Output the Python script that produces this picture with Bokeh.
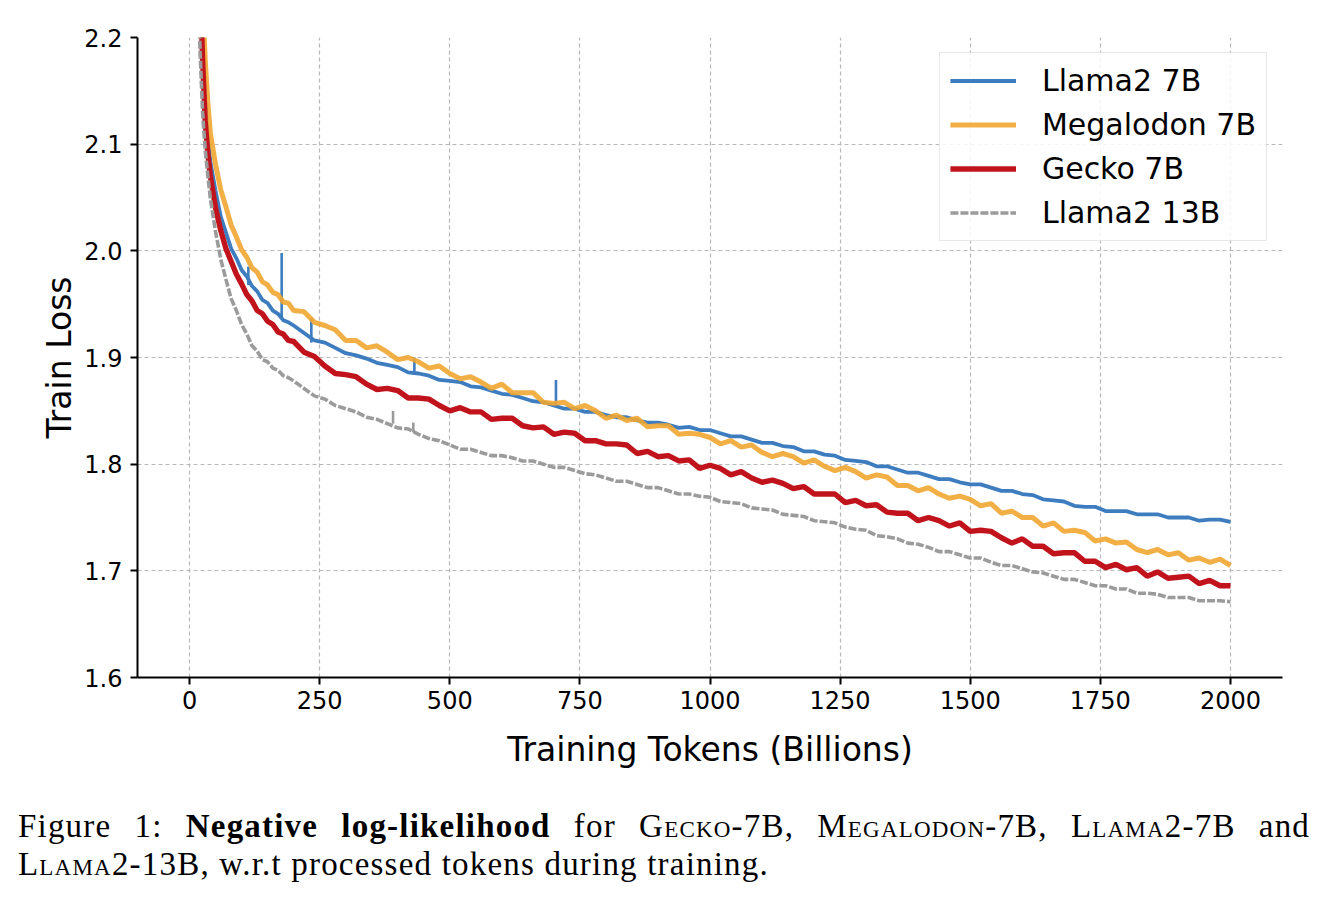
from bokeh.plotting import figure
from bokeh.models import Range1d, FixedTicker, NumeralTickFormatter, Legend, LegendItem, Div
from bokeh.layouts import column
from bokeh.embed import file_html
from bokeh.resources import INLINE

# ---------------- data ----------------
early_tokens = [10, 15, 20, 25, 30, 35, 40, 50, 60, 70, 80, 90, 100, 110, 120, 130, 140, 150, 160, 170, 180, 190]
tokens = early_tokens + list(range(200, 2001, 20))

llama2_7b = [
    2.50, 2.36, 2.25, 2.19, 2.14, 2.106, 2.084, 2.056, 2.032, 2.017, 2.002, 1.993, 1.982, 1.976, 1.967, 1.962, 1.954, 1.951, 1.944, 1.941, 1.935, 1.933,
    1.930, 1.923, 1.916, 1.914, 1.909, 1.904, 1.902, 1.899, 1.895, 1.893,
    1.891, 1.886, 1.885, 1.883, 1.879, 1.878, 1.877, 1.873, 1.872, 1.869,
    1.866, 1.865, 1.862, 1.859, 1.858, 1.855, 1.852, 1.852, 1.849, 1.849,
    1.846, 1.844, 1.844, 1.841, 1.839, 1.839, 1.837, 1.834, 1.835, 1.832,
    1.832, 1.829, 1.826, 1.826, 1.823, 1.820, 1.820, 1.817, 1.816, 1.812,
    1.812, 1.809, 1.808, 1.804, 1.803, 1.802, 1.798, 1.798, 1.795, 1.792,
    1.792, 1.789, 1.786, 1.786, 1.783, 1.781, 1.781, 1.778, 1.775, 1.775,
    1.772, 1.771, 1.767, 1.766, 1.765, 1.761, 1.760, 1.760, 1.756, 1.756,
    1.756, 1.753, 1.753, 1.753, 1.750, 1.750, 1.750, 1.747, 1.748, 1.748,
    1.746,
]

megalodon_7b = [
    2.60, 2.45, 2.32, 2.24, 2.18, 2.140, 2.110, 2.081, 2.057, 2.041, 2.024, 2.013, 2.001, 1.994, 1.984, 1.980, 1.971, 1.968, 1.961, 1.959, 1.952, 1.951,
    1.944, 1.943, 1.933, 1.930, 1.926, 1.916, 1.916, 1.909, 1.911, 1.905,
    1.898, 1.900, 1.896, 1.890, 1.892, 1.885, 1.880, 1.882, 1.877, 1.871,
    1.875, 1.867, 1.867, 1.867, 1.858, 1.857, 1.858, 1.852, 1.855, 1.850,
    1.843, 1.846, 1.841, 1.843, 1.835, 1.836, 1.836, 1.828, 1.829, 1.828,
    1.825, 1.819, 1.822, 1.816, 1.818, 1.811, 1.807, 1.810, 1.807, 1.801,
    1.804, 1.798, 1.794, 1.797, 1.793, 1.787, 1.790, 1.788, 1.780, 1.780,
    1.775, 1.778, 1.772, 1.768, 1.770, 1.767, 1.761, 1.763, 1.754, 1.756,
    1.750, 1.750, 1.742, 1.745, 1.737, 1.738, 1.736, 1.728, 1.730, 1.726,
    1.727, 1.720, 1.717, 1.720, 1.715, 1.717, 1.710, 1.712, 1.708, 1.711,
    1.705,
]

gecko_7b = [
    2.55, 2.40, 2.26, 2.18, 2.122, 2.092, 2.070, 2.040, 2.019, 2.002, 1.990, 1.978, 1.969, 1.959, 1.953, 1.944, 1.941, 1.934, 1.931, 1.924, 1.922, 1.916,
    1.915, 1.905, 1.901, 1.892, 1.885, 1.884, 1.882, 1.875, 1.870, 1.871,
    1.869, 1.862, 1.862, 1.861, 1.855, 1.850, 1.853, 1.849, 1.849, 1.842,
    1.843, 1.843, 1.836, 1.834, 1.835, 1.828, 1.830, 1.829, 1.822, 1.822,
    1.819, 1.819, 1.818, 1.810, 1.812, 1.807, 1.808, 1.803, 1.804, 1.796,
    1.799, 1.796, 1.790, 1.793, 1.787, 1.783, 1.785, 1.782, 1.777, 1.779,
    1.772, 1.772, 1.772, 1.764, 1.766, 1.761, 1.762, 1.755, 1.754, 1.754,
    1.747, 1.750, 1.747, 1.742, 1.745, 1.737, 1.738, 1.737, 1.731, 1.726,
    1.730, 1.723, 1.723, 1.716, 1.717, 1.717, 1.709, 1.709, 1.703, 1.706,
    1.701, 1.703, 1.695, 1.699, 1.693, 1.694, 1.695, 1.688, 1.691, 1.686,
    1.686,
]

llama2_13b = [
    2.45, 2.30, 2.19, 2.13, 2.095, 2.071, 2.049, 2.018, 1.992, 1.973, 1.955, 1.944, 1.931, 1.922, 1.911, 1.906, 1.898, 1.896, 1.890, 1.888, 1.883, 1.881,
    1.878, 1.871, 1.864, 1.861, 1.855, 1.852, 1.849, 1.844, 1.842, 1.838,
    1.834, 1.833, 1.828, 1.824, 1.822, 1.818, 1.814, 1.814, 1.811, 1.808,
    1.808, 1.806, 1.803, 1.803, 1.800, 1.797, 1.797, 1.794, 1.791, 1.790,
    1.787, 1.784, 1.784, 1.781, 1.778, 1.778, 1.775, 1.772, 1.772, 1.770,
    1.769, 1.765, 1.764, 1.763, 1.759, 1.758, 1.757, 1.753, 1.752, 1.751,
    1.747, 1.746, 1.745, 1.741, 1.739, 1.738, 1.733, 1.732, 1.730, 1.726,
    1.725, 1.722, 1.718, 1.718, 1.715, 1.712, 1.712, 1.708, 1.705, 1.705,
    1.702, 1.699, 1.698, 1.695, 1.692, 1.692, 1.689, 1.686, 1.686, 1.683,
    1.683, 1.679, 1.679, 1.678, 1.675, 1.675, 1.675, 1.672, 1.672, 1.672,
    1.671,
]

# loss spikes (token position, base value, peak value)
llama2_7b_spike_x = [113, 177, 234, 432, 704]
llama2_7b_spike_base = [1.968, 1.937, 1.914, 1.884, 1.854]
llama2_7b_spike_top = [1.985, 1.998, 1.937, 1.900, 1.879]
llama2_13b_spike_x = [391, 430]
llama2_13b_spike_base = [1.838, 1.830]
llama2_13b_spike_top = [1.850, 1.839]

series_names = ["Llama2 7B", "Megalodon 7B", "Gecko 7B", "Llama2 13B"]
x_ticks = [0, 250, 500, 750, 1000, 1250, 1500, 1750, 2000]
y_ticks = [1.6, 1.7, 1.8, 1.9, 2.0, 2.1, 2.2]

# ---------------- styling ----------------
BLUE = "#3D7DBF"
ORANGE = "#F0A631"
RED = "#C1131C"
GRAY = "#9B9B9B"
FONT = "DejaVu Sans"

p = figure(width=1326, height=780, output_backend="svg", toolbar_location=None,
           x_range=Range1d(-100, 2100), y_range=Range1d(1.6, 2.2),
           min_border_left=137, min_border_right=44, min_border_top=37, min_border_bottom=103)
p.outline_line_color = None
p.background_fill_color = "white"

for ax in (p.xaxis[0], p.yaxis[0]):
    ax.axis_line_width = 2
    ax.axis_line_color = "black"
    ax.major_tick_line_width = 2
    ax.major_tick_line_color = "black"
    ax.major_tick_out = 7
    ax.major_tick_in = 0
    ax.minor_tick_out = 0
    ax.minor_tick_in = 0
    ax.major_label_text_font = FONT
    ax.major_label_text_font_size = "24px"
    ax.major_label_text_color = "black"
    ax.axis_label_text_font = FONT
    ax.axis_label_text_font_style = "normal"
    ax.axis_label_text_font_size = "33px"
    ax.axis_label_text_color = "black"

p.xaxis.ticker = FixedTicker(ticks=x_ticks)
p.yaxis.ticker = FixedTicker(ticks=y_ticks)
p.yaxis.formatter = NumeralTickFormatter(format="0.0")
p.xaxis.axis_label = "Training Tokens (Billions)"
p.yaxis.axis_label = "Train Loss"
p.xaxis.major_label_standoff = 6
p.yaxis.major_label_standoff = 8
p.xaxis.axis_label_standoff = 18
p.yaxis.axis_label_standoff = 2

for g in (p.xgrid[0], p.ygrid[0]):
    g.grid_line_color = "#b8b8b8"
    g.grid_line_dash = "4 3"
    g.grid_line_width = 1.2
    g.grid_line_alpha = 1.0

r_blue = p.line(tokens, llama2_7b, line_color=BLUE, line_width=3.8)
p.segment(llama2_7b_spike_x, llama2_7b_spike_base, llama2_7b_spike_x, llama2_7b_spike_top,
          line_color=BLUE, line_width=2.6)
r_orange = p.line(tokens, megalodon_7b, line_color=ORANGE, line_width=5.0, line_alpha=0.9)
r_red = p.line(tokens, gecko_7b, line_color=RED, line_width=5.4)
r_gray = p.line(tokens, llama2_13b, line_color=GRAY, line_width=3.6, line_dash="8 2")
p.segment(llama2_13b_spike_x, llama2_13b_spike_base, llama2_13b_spike_x, llama2_13b_spike_top,
          line_color=GRAY, line_width=2.6)

legend = Legend(items=[LegendItem(label=n, renderers=[r]) for n, r in
                       zip(series_names, [r_blue, r_orange, r_red, r_gray])],
                location="top_right")
legend.margin = 15
legend.padding = 10
legend.spacing = 9
legend.label_height = 35
legend.glyph_height = 35
legend.glyph_width = 66
legend.label_standoff = 26
legend.label_text_font = FONT
legend.label_text_font_size = "30px"
legend.label_text_color = "black"
legend.border_line_color = "#d0d0d0"
legend.border_line_width = 1
legend.background_fill_alpha = 0.85
p.add_layout(legend)

caption = Div(
    text=(
        '<div style="font-family: \'Liberation Serif\', \'DejaVu Serif\', serif; font-size: 33px; '
        'letter-spacing: 1.2px; line-height: 38px; color: black; width: 1292px; white-space: nowrap;">'
        '<div style="text-align: justify; text-align-last: justify;">'
        'Figure 1: <b>Negative log-likelihood</b> for '
        '<span style="font-variant: small-caps;">Gecko</span>-7B, '
        '<span style="font-variant: small-caps;">Megalodon</span>-7B, '
        '<span style="font-variant: small-caps;">Llama</span>2-7B and</div>'
        '<div style="text-align: left;">'
        '<span style="font-variant: small-caps;">Llama</span>2-13B, w.r.t processed tokens during training.'
        '</div></div>'
    ),
    width=1310, height=110, margin=(27, 0, 0, 18),
)

layout = column(p, caption, spacing=0)
html = file_html(layout, INLINE)
html = html.replace("<body>", '<body style="margin:0;">')
open("out.html", "w").write(html)
